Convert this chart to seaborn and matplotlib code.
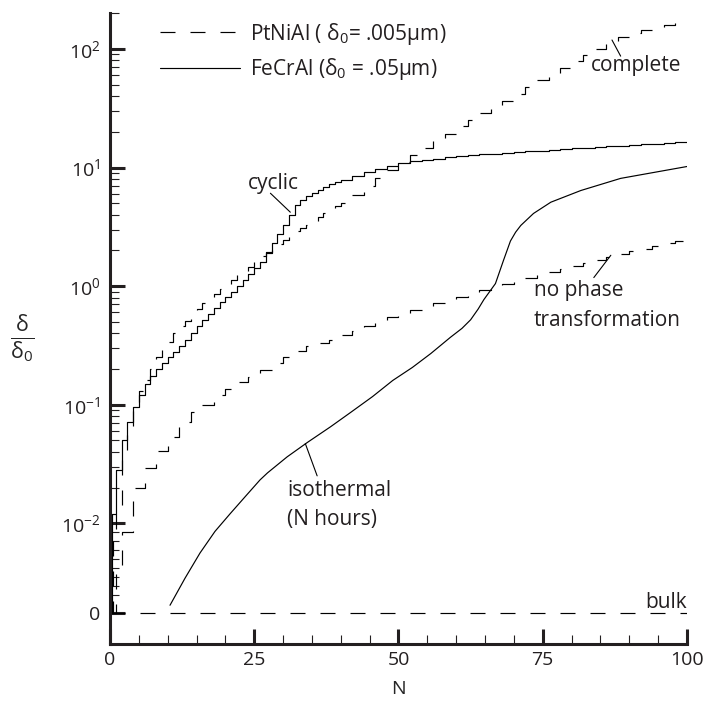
import numpy as np
import matplotlib
matplotlib.use("Agg")
import matplotlib.pyplot as plt
from matplotlib.ticker import FixedLocator, FixedFormatter, MultipleLocator
import seaborn as sns

# FeCrAl, cyclic (solid, stepped once per cycle where it climbs fast)
n_cyclic = [0, 0.3, 1, 2, 3, 4, 5, 6, 7, 8, 9, 10, 11, 12, 13, 14, 15, 16, 17, 18, 19,
            20, 21, 22, 23, 24, 25, 26, 27, 28, 29, 30, 31, 32, 33, 34, 35, 36, 37, 38,
            39, 40, 42, 44, 46, 48, 50, 52, 54, 56, 58, 60, 62, 64, 66, 68, 70, 72, 74,
            76, 78, 80, 82, 84, 86, 88, 90, 92, 94, 96, 98, 100]
fecral_cyclic = [0, 0.012, 0.028, 0.05, 0.072, 0.095, 0.12, 0.15, 0.175, 0.20, 0.225,
                 0.25, 0.28, 0.315, 0.35, 0.40, 0.46, 0.52, 0.58, 0.65, 0.73, 0.81, 0.9,
                 1.0, 1.12, 1.27, 1.43, 1.6, 1.9, 2.3, 2.75, 3.3, 4.0, 4.8, 5.35, 5.8,
                 6.15, 6.5, 6.85, 7.2, 7.5, 7.8, 8.5, 9.1, 9.7, 10.3, 10.9, 11.3, 11.6,
                 11.9, 12.2, 12.4, 12.7, 12.9, 13.1, 13.3, 13.5, 13.7, 13.9, 14.1, 14.3,
                 14.5, 14.7, 14.9, 15.1, 15.3, 15.5, 15.7, 15.9, 16.1, 16.3, 16.5]

# PtNiAl, complete transformation (dashed, stepped)
n_complete = [0, 0.5, 1, 2, 3, 4, 5, 6, 7, 8, 9, 10, 11, 12, 13, 14, 15, 16, 17, 18, 19,
              20, 21, 22, 23, 24, 25, 26, 27, 28, 29, 30, 31, 32, 33, 34, 35, 36, 37, 38,
              39, 40, 42, 44, 46, 48, 50, 52, 54, 56, 58, 60, 62, 64, 66, 68, 70, 72, 74,
              76, 78, 80, 82, 84, 86, 88, 90, 92, 94, 96, 98, 100]
ptnial_complete = [0, 0.008, 0.014, 0.035, 0.065, 0.10, 0.13, 0.16, 0.2, 0.25, 0.29,
                   0.34, 0.40, 0.46, 0.51, 0.57, 0.64, 0.72, 0.78, 0.85, 0.94, 1.04, 1.13,
                   1.23, 1.33, 1.45, 1.6, 1.78, 1.95, 2.1, 2.27, 2.45, 2.67, 2.9, 3.1, 3.3,
                   3.55, 3.85, 4.1, 4.4, 4.7, 5.0, 5.9, 7.0, 8.2, 9.6, 11.2, 12.8, 14.5,
                   16.8, 19.3, 22.3, 25.2, 28.9, 32.5, 36.5, 41.5, 47.5, 54.5, 61.5, 69.5,
                   79, 89, 100, 113, 126, 137, 144, 150, 158, 166, 172]

# PtNiAl, no phase transformation (dashed, stepped)
n_nophase = [0, 1, 2, 4, 6, 8, 10, 12, 14, 16, 18, 20, 22, 24, 26, 28, 30, 32, 34, 36,
             38, 40, 42, 44, 46, 48, 50, 52, 54, 56, 58, 60, 62, 64, 66, 68, 70, 72, 74,
             76, 78, 80, 82, 84, 86, 88, 90, 92, 94, 96, 98, 100]
ptnial_nophase = [0, 0.005, 0.009, 0.02, 0.029, 0.041, 0.053, 0.072, 0.086, 0.10, 0.12,
                  0.135, 0.155, 0.17, 0.195, 0.225, 0.25, 0.285, 0.31, 0.33, 0.35, 0.385,
                  0.42, 0.46, 0.5, 0.55, 0.59, 0.63, 0.67, 0.72, 0.76, 0.81, 0.86, 0.93,
                  1.0, 1.05, 1.12, 1.18, 1.25, 1.31, 1.39, 1.48, 1.57, 1.66, 1.76, 1.86,
                  1.96, 2.07, 2.18, 2.29, 2.4, 2.5]

# FeCrAl, isothermal (N hours), smooth
n_iso = [10.4, 13.0, 15.6, 18.2, 20.8, 23.4, 26.0, 27.3, 30.7, 34.2, 38.2, 41.7, 45.5,
         49.0, 52.4, 55.6, 59.0, 61.0, 62.5, 63.8, 64.8, 66.8, 68.2, 69.4, 70.3, 71.2,
         73.4, 76.4, 81.6, 88.5, 100]
fecral_iso = [0.0009, 0.0039, 0.0067, 0.0091, 0.0120, 0.0167, 0.0232, 0.0266, 0.0363,
              0.048, 0.065, 0.086, 0.117, 0.16, 0.206, 0.27, 0.37, 0.44, 0.52, 0.64, 0.77,
              1.05, 1.65, 2.4, 2.85, 3.25, 4.1, 5.1, 6.4, 8.1, 10.2]

# bulk
n_bulk = [0, 100]
bulk = [0, 0]

y_major = [0, 1e-2, 1e-1, 1, 10, 100]
y_major_labels = ["0", "$10^{-2}$", "$10^{-1}$", "$10^{0}$", "$10^{1}$", "$10^{2}$"]

sns.set_theme(style="ticks")
plt.rcParams["font.family"] = ["Open Sans", "DejaVu Sans"]
plt.rcParams["mathtext.fontset"] = "custom"
plt.rcParams["mathtext.rm"] = "Open Sans"
plt.rcParams["mathtext.it"] = "Open Sans:italic"
plt.rcParams["lines.scale_dashes"] = False
plt.rcParams["text.color"] = "#231f20"

fig = plt.figure(figsize=(7.04, 7.19), dpi=100)
ax = fig.add_axes([0.15625, 0.10431, 0.8196, 0.8776])

dash = (0, (10.8, 10.8))
lw = 0.85

sns.lineplot(x=n_complete, y=ptnial_complete, ax=ax, color="black", lw=lw,
             linestyle=dash, drawstyle="steps-post", label="PtNiAl ( $\\mathrm{δ}_0$= .005μm)")
sns.lineplot(x=n_cyclic, y=fecral_cyclic, ax=ax, color="black", lw=lw,
             drawstyle="steps-post", label="FeCrAl ($\\mathrm{δ}_0$ = .05μm)")
sns.lineplot(x=n_nophase, y=ptnial_nophase, ax=ax, color="black", lw=lw,
             linestyle=dash, drawstyle="steps-post")
sns.lineplot(x=n_iso, y=fecral_iso, ax=ax, color="black", lw=lw)
sns.lineplot(x=n_bulk, y=bulk, ax=ax, color="black", lw=lw, linestyle=dash)

# axes: symlog so that 0 sits under the 10^-2 decade
ax.set_yscale("symlog", linthresh=0.01, linscale=0.684)
ax.set_ylim(-0.0034, 201)
ax.set_xlim(0, 100)

ax.yaxis.set_major_locator(FixedLocator(y_major))
ax.yaxis.set_major_formatter(FixedFormatter(y_major_labels))
minor = [k * 10.0 ** e for e in range(-3, 3) for k in range(2, 10) if k * 10.0 ** e <= 201]
ax.yaxis.set_minor_locator(FixedLocator(minor))
ax.xaxis.set_major_locator(FixedLocator([0, 25, 50, 75, 100]))
ax.xaxis.set_minor_locator(MultipleLocator(5))

ax.tick_params(which="major", direction="in", length=10.8, width=2.2, labelsize=14,
               color="#231f20", labelcolor="#231f20")
ax.tick_params(which="minor", direction="in", length=6.5, width=0.8, color="#231f20")
ax.tick_params(axis="x", which="major", pad=5)
ax.tick_params(axis="y", which="major", pad=7)

sns.despine(ax=ax)
for side in ["left", "bottom"]:
    ax.spines[side].set_linewidth(2.2)
    ax.spines[side].set_color("#231f20")

ax.set_xlabel("N", fontsize=14, labelpad=8)
ax.set_ylabel("$\\frac{\\mathrm{δ}}{\\mathrm{δ}_0}$", fontsize=22, rotation=0,
              ha="center", va="center")
ax.yaxis.set_label_coords(-0.1525, 0.482)

leg = ax.legend(loc="upper left", bbox_to_anchor=(0.0867, 0.988), frameon=False,
                fontsize=15, handlelength=3.84, handletextpad=0.48, borderpad=0,
                borderaxespad=0, labelspacing=0.45)

# curve labels with leader lines
txt = dict(fontsize=15, color="#231f20")
lead = dict(arrowstyle="-", lw=0.8, color="black", shrinkA=0, shrinkB=0)

ax.text(91.1, 72, "complete", ha="center", va="center", **txt)
ax.annotate("", xy=(87.0, 119), xytext=(88.5, 87), arrowprops=lead)

ax.text(28.3, 7.4, "cyclic", ha="center", va="center", **txt)
ax.annotate("", xy=(31.25, 4.2), xytext=(27.8, 6.07), arrowprops=lead)

ax.text(73.4, 0.833, "no phase", ha="left", va="baseline", **txt)
ax.text(73.4, 0.465, "transformation", ha="left", va="baseline", **txt)
ax.annotate("", xy=(86.8, 1.82), xytext=(83.85, 1.18), arrowprops=lead)

ax.text(30.7, 0.0171, "isothermal", ha="left", va="baseline", **txt)
ax.text(30.7, 0.0098, "(N hours)", ha="left", va="baseline", **txt)
ax.annotate("", xy=(33.85, 0.047), xytext=(35.9, 0.0251), arrowprops=lead)

ax.annotate("bulk", xy=(100, 0), xytext=(0, 4), textcoords="offset points",
            ha="right", va="baseline", **txt)

fig.savefig("out.png", dpi=100)
